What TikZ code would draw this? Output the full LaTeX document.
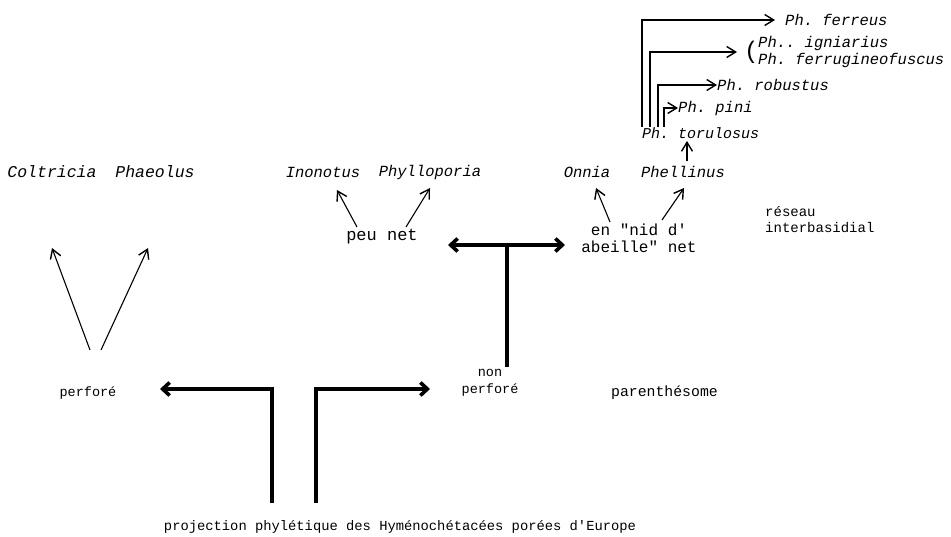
\documentclass[tikz,border=0pt]{standalone}
\usepackage{fontspec}
\setmonofont{Liberation Mono}
\usetikzlibrary{arrows.meta}
\tikzset{
  gen/.style={font=\ttfamily\itshape\fontsize{15.5}{15.5}\selectfont, inner sep=0pt},
  gent/.style={gen, anchor=west},
  lbl/.style={font=\ttfamily\fontsize{13.5}{16.5}\selectfont, inner sep=0pt, align=center},
  thin/.style={line width=1.1pt, -{Straight Barb[length=9pt,width=11pt,line width=1.4pt]}},
  thick/.style={line width=3.6pt, -{Straight Barb[length=7pt,width=13pt]}},
  twothick/.style={line width=3.6pt, {Straight Barb[length=7pt,width=13pt]}-{Straight Barb[length=7pt,width=13pt]}},
  lin/.style={line width=1.1pt}
}
\begin{document}
\begin{tikzpicture}[x=1pt,y=-1pt]
\useasboundingbox (0,0) rectangle (951,537);
% genera
\node[gen, font=\ttfamily\itshape\fontsize{16.5}{16.5}\selectfont] (colt) at (52,172) {Coltricia};
\node[gen, font=\ttfamily\itshape\fontsize{16.5}{16.5}\selectfont] (phae) at (155,172) {Phaeolus};
\node[gen] (inon) at (323,172) {Inonotus};
\node[gen] (phyl) at (430,172) {Phylloporia};
\node[gen] (onni) at (587,172) {Onnia};
\node[gen] (phel) at (683,172) {Phellinus};
% labels
\node[lbl] (perf) at (88,393) {perforé};
\node[lbl] (nonp) at (490,383) {non\\perforé};
\node[lbl, anchor=west, font=\ttfamily\fontsize{14.8}{16}\selectfont] (pare) at (611,393) {parenthésome};
\node[lbl, font=\ttfamily\fontsize{17}{17}\selectfont] (peu) at (382,237) {peu net};
\node[lbl, font=\ttfamily\fontsize{16}{17}\selectfont] (nid) at (639,238) {en "nid d'\\abeille" net};
\node[lbl, anchor=west, align=left, font=\ttfamily\fontsize{14}{16}\selectfont] (res) at (765,220) {réseau\\interbasidial};
\node[lbl, font=\ttfamily\fontsize{13.8}{16}\selectfont] (title) at (400,527) {projection phylétique des Hyménochétacées porées d'Europe};
% Phellinus tree
\node[gent, font=\ttfamily\itshape\fontsize{15}{15}\selectfont] (toru) at (642,133) {Ph. torulosus};
\node[gent] (pini) at (678,108) {Ph. pini};
\node[gent] (robu) at (717,85) {Ph. robustus};
\node[gent] (igni) at (758,43) {Ph.. igniarius};
\node[gent] (ferr) at (758,60) {Ph. ferrugineofuscus};
\node[gent, font=\ttfamily\fontsize{24}{24}\selectfont] (par) at (744,52) {(};
\node[gent] (ferre) at (785,20) {Ph. ferreus};
% coordinates
\coordinate (b1) at (642,127);
\coordinate (b2) at (650,127);
\coordinate (b3) at (658,127);
\coordinate (b4) at (664,127);
\coordinate (k1) at (642,20);
\coordinate (k2) at (650,52);
\coordinate (k3) at (658,85);
\coordinate (k4) at (664,108);
\coordinate (t1) at (775,20);
\coordinate (t2) at (737,52);
% Phellinus branches
\draw[thin] (b1) -- (k1) -- (t1);
\draw[thin] (b2) -- (k2) -- (t2);
\draw[thin] (b3) -- (k3) -- (robu.west);
\draw[thin] (b4) -- (k4) -- (pini.west);
\draw[thin] (687,161) -- (687,141);
% thin arrows
\draw[thin] (90,350) -- (52,248);
\draw[thin] (101,350) -- (148,248);
\draw[thin] (357,227) -- (337,190);
\draw[thin] (406,227) -- (430,188);
\draw[thin] (610,222) -- (596,188);
\draw[thin] (662,220) -- (684,188);
% thick arrows
\coordinate (lb) at (272,503);
\coordinate (lc) at (272,389);
\coordinate (lt) at (160,389);
\coordinate (rb) at (316,503);
\coordinate (rc) at (316,389);
\coordinate (rt) at (430,389);
\draw[thick, line join=miter] (lb) -- (lc) -- (lt);
\draw[thick, line join=miter] (rb) -- (rc) -- (rt);
\coordinate (tb) at (507,367);
\coordinate (tt) at (507,245);
\coordinate (tl) at (448,245);
\coordinate (tr) at (565,245);
\draw[line width=3.6pt] (tb) -- (tt);
\draw[twothick] (tl) -- (tr);
\end{tikzpicture}
\end{document}
